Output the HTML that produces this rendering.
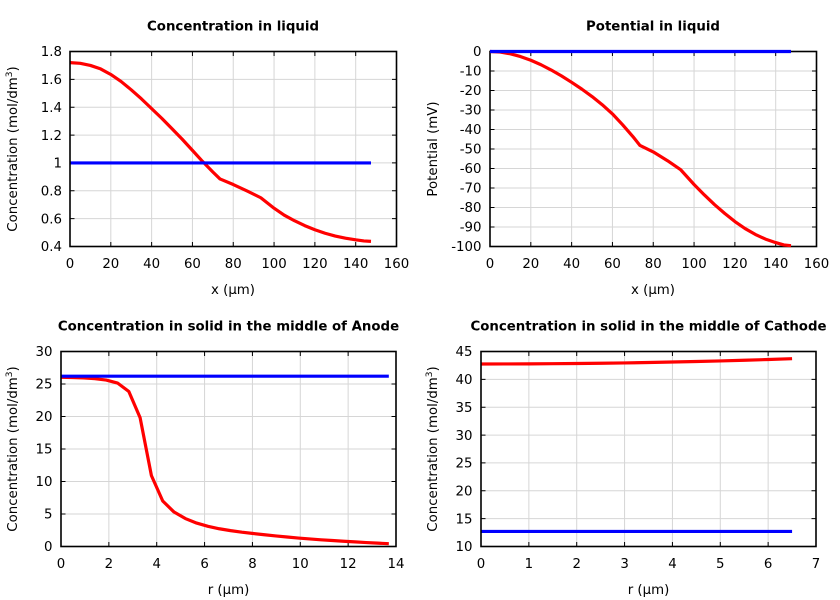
<!DOCTYPE html>
<html><head><meta charset="utf-8"><style>
html,body{margin:0;padding:0;background:#fff;}
svg{display:block;}
text{font-family:"DejaVu Sans","Liberation Sans",sans-serif;font-size:13.33px;fill:#000;}
.t{font-weight:bold;text-anchor:middle;}
.xl{text-anchor:middle;}
.yl{text-anchor:end;}
.grid{stroke:#d6d6d6;stroke-width:1;fill:none;}
.tick{stroke:#000;stroke-width:1;fill:none;}
.box{stroke:#000;stroke-width:1.6;fill:none;}
.r{stroke:#ff0000;stroke-width:3.2;fill:none;stroke-linejoin:round;}
.b{stroke:#0000ff;stroke-width:3.2;fill:none;}
</style></head><body>
<svg width="840" height="600" viewBox="0 0 840 600" xmlns="http://www.w3.org/2000/svg">
<rect width="840" height="600" fill="#fff"/>

<!-- ===== Panel 1 ===== -->
<path class="grid" d="M110.81 51.5V246.5M151.63 51.5V246.5M192.44 51.5V246.5M233.25 51.5V246.5M274.06 51.5V246.5M314.88 51.5V246.5M355.69 51.5V246.5M70 218.64H396.5M70 190.79H396.5M70 162.93H396.5M70 135.07H396.5M70 107.21H396.5M70 79.36H396.5"/>
<path class="tick" d="M110.81 246.5v-4.5M151.63 246.5v-4.5M192.44 246.5v-4.5M233.25 246.5v-4.5M274.06 246.5v-4.5M314.88 246.5v-4.5M355.69 246.5v-4.5M110.81 51.5v4.5M151.63 51.5v4.5M192.44 51.5v4.5M233.25 51.5v4.5M274.06 51.5v4.5M314.88 51.5v4.5M355.69 51.5v4.5M70 218.64h4.5M70 190.79h4.5M70 162.93h4.5M70 135.07h4.5M70 107.21h4.5M70 79.36h4.5M396.5 218.64h-4.5M396.5 190.79h-4.5M396.5 162.93h-4.5M396.5 135.07h-4.5M396.5 107.21h-4.5M396.5 79.36h-4.5"/>
<g transform="translate(70,246.5) scale(2.040625,-139.2857) translate(0,-0.4)">
<polyline class="r" vector-effect="non-scaling-stroke" points="0,1.72 5,1.715 10,1.70 15,1.675 20,1.635 25,1.585 30,1.525 35,1.46 40,1.39 45,1.32 50,1.245 55,1.17 60,1.09 65,1.01 70,0.935 73.5,0.885 80,0.845 87,0.797 93.5,0.75 100,0.675 105,0.625 110,0.585 115,0.55 120,0.52 125,0.495 130,0.475 135,0.46 140,0.448 144,0.44 147.5,0.437"/>
<polyline class="b" vector-effect="non-scaling-stroke" points="0,1 147.5,1"/>
</g>
<rect class="box" x="70" y="51.5" width="326.5" height="195"/>
<text class="t" x="233" y="30.5">Concentration in liquid</text>
<text class="xl" x="70" y="268">0</text><text class="xl" x="110.81" y="268">20</text><text class="xl" x="151.63" y="268">40</text><text class="xl" x="192.44" y="268">60</text><text class="xl" x="233.25" y="268">80</text><text class="xl" x="274.06" y="268">100</text><text class="xl" x="314.88" y="268">120</text><text class="xl" x="355.69" y="268">140</text><text class="xl" x="396.5" y="268">160</text>
<text class="yl" x="62" y="251.2">0.4</text><text class="yl" x="62" y="223.3">0.6</text><text class="yl" x="62" y="195.5">0.8</text><text class="yl" x="62" y="167.6">1</text><text class="yl" x="62" y="139.8">1.2</text><text class="yl" x="62" y="111.9">1.4</text><text class="yl" x="62" y="84.1">1.6</text><text class="yl" x="62" y="56.2">1.8</text>
<text class="xl" x="233" y="294">x (µm)</text>
<text class="xl" transform="translate(17,149) rotate(-90)">Concentration (mol/dm<tspan font-size="9" dy="-5">3</tspan><tspan dy="5">)</tspan></text>

<!-- ===== Panel 2 ===== -->
<path class="grid" d="M530.81 51.5V246.5M571.63 51.5V246.5M612.44 51.5V246.5M653.25 51.5V246.5M694.06 51.5V246.5M734.88 51.5V246.5M775.69 51.5V246.5M490 71H816.5M490 90.5H816.5M490 110H816.5M490 129.5H816.5M490 149H816.5M490 168.5H816.5M490 188H816.5M490 207.5H816.5M490 227H816.5"/>
<path class="tick" d="M530.81 246.5v-4.5M571.63 246.5v-4.5M612.44 246.5v-4.5M653.25 246.5v-4.5M694.06 246.5v-4.5M734.88 246.5v-4.5M775.69 246.5v-4.5M530.81 51.5v4.5M571.63 51.5v4.5M612.44 51.5v4.5M653.25 51.5v4.5M694.06 51.5v4.5M734.88 51.5v4.5M775.69 51.5v4.5M490 71h4.5M490 90.5h4.5M490 110h4.5M490 129.5h4.5M490 149h4.5M490 168.5h4.5M490 188h4.5M490 207.5h4.5M490 227h4.5M816.5 71h-4.5M816.5 90.5h-4.5M816.5 110h-4.5M816.5 129.5h-4.5M816.5 149h-4.5M816.5 168.5h-4.5M816.5 188h-4.5M816.5 207.5h-4.5M816.5 227h-4.5"/>
<rect class="box" x="490" y="51.5" width="326.5" height="195"/>
<g transform="translate(490,51.5) scale(2.040625,-1.95)">
<polyline class="r" vector-effect="non-scaling-stroke" points="0,0 5,-0.3 10,-1.2 15,-2.6 20,-4.5 25,-6.8 30,-9.5 35,-12.5 40,-15.8 45,-19.3 50,-23.1 55,-27.3 60,-32 65,-37.6 70,-43.6 73.5,-48.2 80,-51.5 87,-56 93.5,-60.7 100,-68.2 105,-73.5 110,-78.5 115,-83 120,-87.2 125,-90.8 130,-93.8 135,-96.2 140,-98 144,-99.2 147.5,-99.6"/>
<polyline class="b" vector-effect="non-scaling-stroke" points="0,0 147.5,0"/>
</g>
<text class="t" x="653" y="30.5">Potential in liquid</text>
<text class="xl" x="490" y="268">0</text><text class="xl" x="530.81" y="268">20</text><text class="xl" x="571.63" y="268">40</text><text class="xl" x="612.44" y="268">60</text><text class="xl" x="653.25" y="268">80</text><text class="xl" x="694.06" y="268">100</text><text class="xl" x="734.88" y="268">120</text><text class="xl" x="775.69" y="268">140</text><text class="xl" x="816.5" y="268">160</text>
<text class="yl" x="481.5" y="56.2">0</text><text class="yl" x="481.5" y="75.7">-10</text><text class="yl" x="481.5" y="95.2">-20</text><text class="yl" x="481.5" y="114.7">-30</text><text class="yl" x="481.5" y="134.2">-40</text><text class="yl" x="481.5" y="153.7">-50</text><text class="yl" x="481.5" y="173.2">-60</text><text class="yl" x="481.5" y="192.7">-70</text><text class="yl" x="481.5" y="212.2">-80</text><text class="yl" x="481.5" y="231.7">-90</text><text class="yl" x="481.5" y="251.2">-100</text>
<text class="xl" x="653" y="294">x (µm)</text>
<text class="xl" transform="translate(437,149) rotate(-90)">Potential (mV)</text>

<!-- ===== Panel 3 ===== -->
<path class="grid" d="M108.86 351.5V546.5M156.71 351.5V546.5M204.57 351.5V546.5M252.43 351.5V546.5M300.29 351.5V546.5M348.14 351.5V546.5M61 514H396M61 481.5H396M61 449H396M61 416.5H396M61 384H396"/>
<path class="tick" d="M108.86 546.5v-4.5M156.71 546.5v-4.5M204.57 546.5v-4.5M252.43 546.5v-4.5M300.29 546.5v-4.5M348.14 546.5v-4.5M108.86 351.5v4.5M156.71 351.5v4.5M204.57 351.5v4.5M252.43 351.5v4.5M300.29 351.5v4.5M348.14 351.5v4.5M61 514h4.5M61 481.5h4.5M61 449h4.5M61 416.5h4.5M61 384h4.5M396 514h-4.5M396 481.5h-4.5M396 449h-4.5M396 416.5h-4.5M396 384h-4.5"/>
<g transform="translate(61,546.5) scale(23.92857,-6.5)">
<polyline class="r" vector-effect="non-scaling-stroke" points="0,26.03 0.4724,26.0 0.9448,25.93 1.4172,25.82 1.8897,25.6 2.3621,25.15 2.8345,23.85 3.3069,19.8 3.7793,10.9 4.2517,7.0 4.7241,5.3 5.1966,4.3 5.669,3.6 6.1414,3.1 6.6138,2.73 7.0862,2.44 7.5586,2.2 8.031,2.0 8.5034,1.81 8.9759,1.63 9.4483,1.46 9.9207,1.3 10.3931,1.16 10.8655,1.03 11.3379,0.92 11.8103,0.81 12.2828,0.71 12.7552,0.61 13.2276,0.52 13.7,0.43"/>
<polyline class="b" vector-effect="non-scaling-stroke" points="0,26.2 13.7,26.2"/>
</g>
<rect class="box" x="61" y="351.5" width="335" height="195"/>
<text class="t" x="228.5" y="330.5">Concentration in solid in the middle of Anode</text>
<text class="xl" x="61" y="568">0</text><text class="xl" x="108.86" y="568">2</text><text class="xl" x="156.71" y="568">4</text><text class="xl" x="204.57" y="568">6</text><text class="xl" x="252.43" y="568">8</text><text class="xl" x="300.29" y="568">10</text><text class="xl" x="348.14" y="568">12</text><text class="xl" x="396" y="568">14</text>
<text class="yl" x="52.5" y="551.2">0</text><text class="yl" x="52.5" y="518.7">5</text><text class="yl" x="52.5" y="486.2">10</text><text class="yl" x="52.5" y="453.7">15</text><text class="yl" x="52.5" y="421.2">20</text><text class="yl" x="52.5" y="388.7">25</text><text class="yl" x="52.5" y="356.2">30</text>
<text class="xl" x="228.5" y="594">r (µm)</text>
<text class="xl" transform="translate(17,449) rotate(-90)">Concentration (mol/dm<tspan font-size="9" dy="-5">3</tspan><tspan dy="5">)</tspan></text>

<!-- ===== Panel 4 ===== -->
<path class="grid" d="M528.86 351.5V546.5M576.71 351.5V546.5M624.57 351.5V546.5M672.43 351.5V546.5M720.29 351.5V546.5M768.14 351.5V546.5M481 518.64H816M481 490.79H816M481 462.93H816M481 435.07H816M481 407.21H816M481 379.36H816"/>
<path class="tick" d="M528.86 546.5v-4.5M576.71 546.5v-4.5M624.57 546.5v-4.5M672.43 546.5v-4.5M720.29 546.5v-4.5M768.14 546.5v-4.5M528.86 351.5v4.5M576.71 351.5v4.5M624.57 351.5v4.5M672.43 351.5v4.5M720.29 351.5v4.5M768.14 351.5v4.5M481 518.64h4.5M481 490.79h4.5M481 462.93h4.5M481 435.07h4.5M481 407.21h4.5M481 379.36h4.5M816 518.64h-4.5M816 490.79h-4.5M816 462.93h-4.5M816 435.07h-4.5M816 407.21h-4.5M816 379.36h-4.5"/>
<g transform="translate(481,546.5) scale(47.857,-5.5714) translate(0,-10)">
<polyline class="r" vector-effect="non-scaling-stroke" points="0,42.76 0.5,42.766 1,42.78 1.5,42.81 2,42.84 2.5,42.89 3,42.95 3.5,43.02 4,43.11 4.5,43.2 5,43.31 5.5,43.43 6,43.56 6.5,43.71"/>
<polyline class="b" vector-effect="non-scaling-stroke" points="0,12.7 6.5,12.7"/>
</g>
<rect class="box" x="481" y="351.5" width="335" height="195"/>
<text class="t" x="648.5" y="330.5">Concentration in solid in the middle of Cathode</text>
<text class="xl" x="481" y="568">0</text><text class="xl" x="528.86" y="568">1</text><text class="xl" x="576.71" y="568">2</text><text class="xl" x="624.57" y="568">3</text><text class="xl" x="672.43" y="568">4</text><text class="xl" x="720.29" y="568">5</text><text class="xl" x="768.14" y="568">6</text><text class="xl" x="816" y="568">7</text>
<text class="yl" x="472.5" y="551.2">10</text><text class="yl" x="472.5" y="523.3">15</text><text class="yl" x="472.5" y="495.5">20</text><text class="yl" x="472.5" y="467.6">25</text><text class="yl" x="472.5" y="439.8">30</text><text class="yl" x="472.5" y="411.9">35</text><text class="yl" x="472.5" y="384.1">40</text><text class="yl" x="472.5" y="356.2">45</text>
<text class="xl" x="648.5" y="594">r (µm)</text>
<text class="xl" transform="translate(437,449) rotate(-90)">Concentration (mol/dm<tspan font-size="9" dy="-5">3</tspan><tspan dy="5">)</tspan></text>
</svg>
</body></html>
